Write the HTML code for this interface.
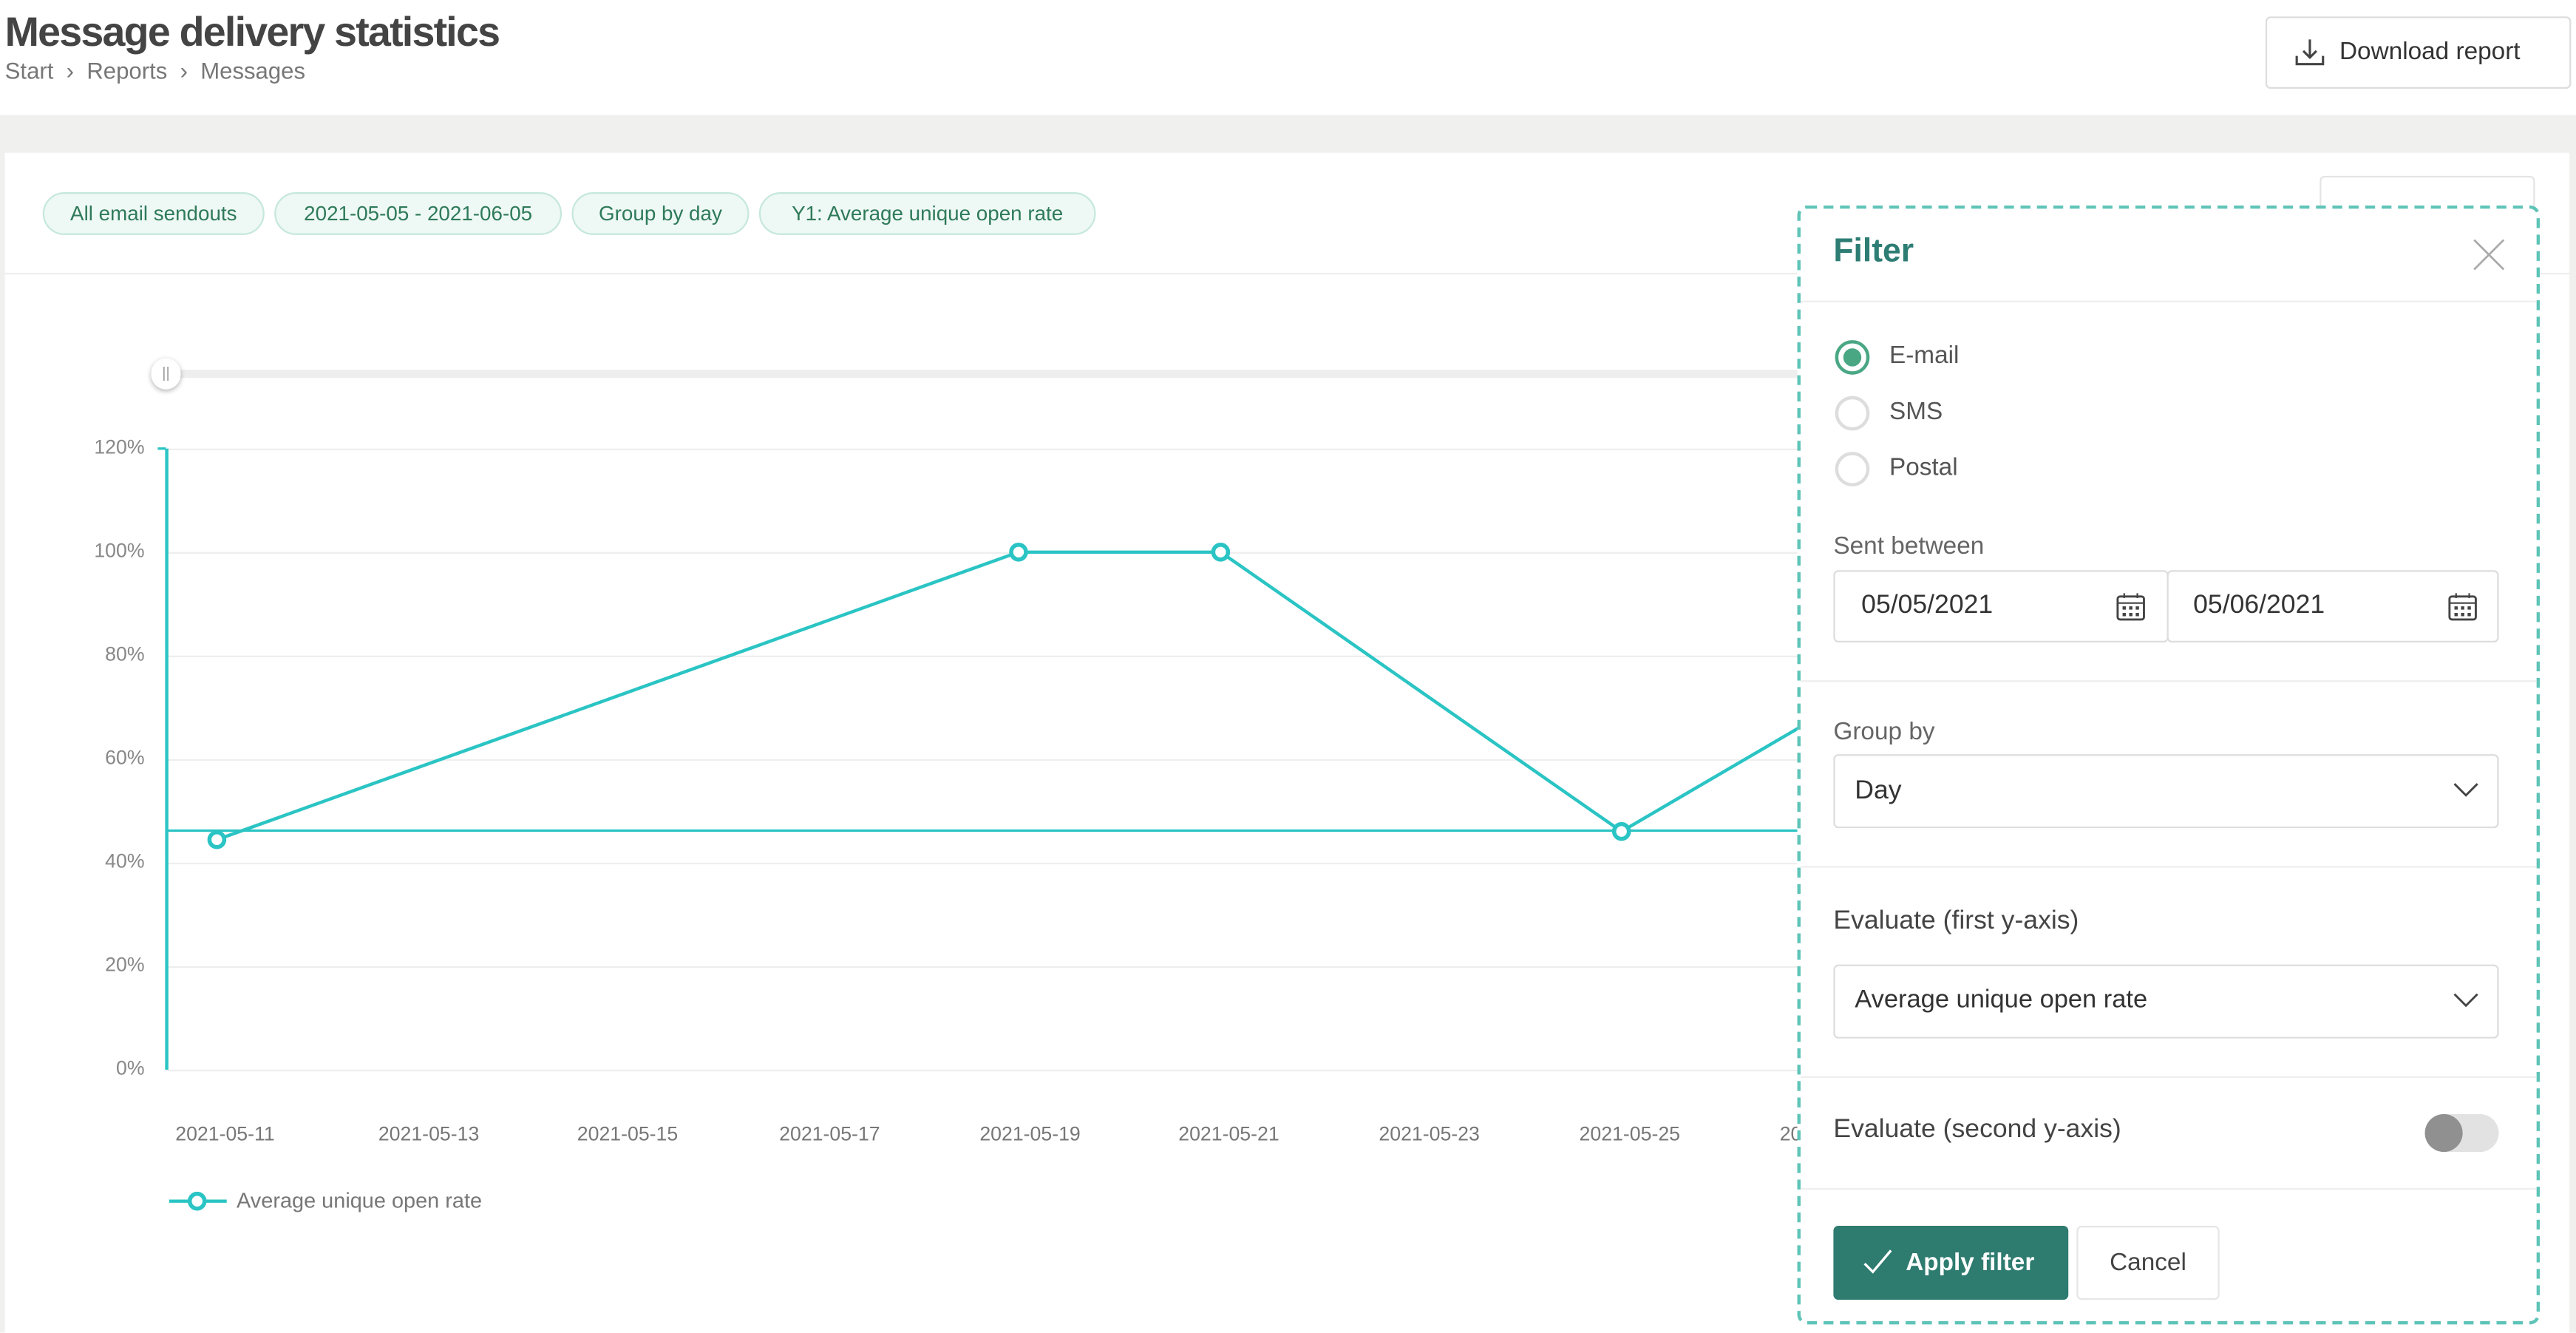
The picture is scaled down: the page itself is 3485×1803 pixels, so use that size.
<!DOCTYPE html>
<html><head><meta charset="utf-8"><style>
*{box-sizing:border-box;margin:0;padding:0}
html,body{width:3485px;height:1802px;overflow:hidden;background:#fff}
#s{position:absolute;left:0;top:0;width:1568px;height:811px;transform:scale(2.22258);transform-origin:0 0;font-family:"Liberation Sans",sans-serif;background:#fff}
.a{position:absolute}
.chip{position:absolute;top:117px;height:26px;border:1px solid #c6e8dc;background:#eef8f4;border-radius:13px;color:#2e7a5a;font-size:12.5px;line-height:24px;text-align:center}
.ylab{position:absolute;right:1480px;font-size:12px;color:#888;text-align:right}
.xlab{position:absolute;top:683px;font-size:12px;color:#777;width:80px;margin-left:-40px;text-align:center}
.lbl{position:absolute;left:1116px;font-size:15px;color:#666}
.inp{position:absolute;border:1px solid #ddd;border-radius:3px;background:#fff;font-size:16px;color:#333}
.div{position:absolute;left:1096px;width:448px;height:1px;background:#eee}
.radio{position:absolute;left:1117px;width:21px;height:21px;border-radius:50%;border:2px solid #ddd}
</style></head><body><div id="s">
<div class="a" style="left:3px;top:6px;font-size:25px;font-weight:bold;color:#444;letter-spacing:-0.8px">Message delivery statistics</div>
<div class="a" style="left:3px;top:35px;font-size:14px;color:#777">Start &nbsp;›&nbsp; Reports &nbsp;›&nbsp; Messages</div>
<div class="a" style="left:1379px;top:10px;width:186px;height:44px;border:1px solid #ddd;border-radius:3px;font-size:15px;color:#333;line-height:42px;padding-left:44px">Download report</div>
<svg class="a" style="left:1396px;top:22px" width="20" height="20" viewBox="0 0 20 20"><path d="M10 2v11M6 9l4 4 4-4M2 12v5h16v-5" fill="none" stroke="#444" stroke-width="1.4"/></svg>
<div class="a" style="left:0;top:70px;width:1568px;height:741px;background:#f0f0ee"></div>
<div class="a" style="left:3px;top:93px;width:1561px;height:718px;background:#fff"></div>
<div class="chip" style="left:26px;width:135px">All email sendouts</div>
<div class="chip" style="left:167px;width:175px">2021-05-05 - 2021-06-05</div>
<div class="chip" style="left:348px;width:108px">Group by day</div>
<div class="chip" style="left:462px;width:205px">Y1: Average unique open rate</div>
<div class="a" style="left:1412px;top:107px;width:131px;height:40px;border:1px solid #e4e4e4;border-radius:3px"></div>
<div class="a" style="left:3px;top:166px;width:1561px;height:1px;background:#eee"></div>
<div class="a" style="left:100px;top:225px;width:1000px;height:5px;background:#eee;border-radius:2px"></div>
<div class="a" style="left:92px;top:218px;width:18px;height:19px;border-radius:9px;background:#fff;box-shadow:0 1px 3px rgba(0,0,0,.3);font-size:9px;color:#999;text-align:center;line-height:18px">||</div>
<div class="ylab" style="top:265px;left:40px;width:48px">120%</div>
<div class="ylab" style="top:328px;left:40px;width:48px">100%</div>
<div class="ylab" style="top:391px;left:40px;width:48px">80%</div>
<div class="ylab" style="top:454px;left:40px;width:48px">60%</div>
<div class="ylab" style="top:517px;left:40px;width:48px">40%</div>
<div class="ylab" style="top:580px;left:40px;width:48px">20%</div>
<div class="ylab" style="top:643px;left:40px;width:48px">0%</div>
<svg class="a" style="left:0;top:0" width="1568" height="811">
<g stroke="#eee" stroke-width="1"><line x1="101" y1="273.5" x2="1100" y2="273.5"/><line x1="101" y1="336.5" x2="1100" y2="336.5"/><line x1="101" y1="399.5" x2="1100" y2="399.5"/><line x1="101" y1="462.5" x2="1100" y2="462.5"/><line x1="101" y1="525.5" x2="1100" y2="525.5"/><line x1="101" y1="588.5" x2="1100" y2="588.5"/><line x1="101" y1="651.5" x2="1100" y2="651.5"/></g>
<line x1="101.5" y1="273" x2="101.5" y2="651" stroke="#2bc4c4" stroke-width="2"/>
<line x1="96" y1="273" x2="101" y2="273" stroke="#2bc4c4" stroke-width="1.5"/>
<line x1="101" y1="505.5" x2="1100" y2="505.5" stroke="#2bc4c4" stroke-width="1.5"/>
<polyline points="132,511 620,336 743,336 987,506 1100,440" fill="none" stroke="#2bc4c4" stroke-width="2"/>
<g fill="#fff" stroke="#2bc4c4" stroke-width="2.5"><circle cx="132" cy="511" r="4.5"/><circle cx="620" cy="336" r="4.5"/><circle cx="743" cy="336" r="4.5"/><circle cx="987" cy="506" r="4.5"/></g>
<line x1="103" y1="731" x2="138" y2="731" stroke="#2bc4c4" stroke-width="2"/>
<circle cx="120" cy="731" r="4.5" fill="#fff" stroke="#2bc4c4" stroke-width="2.5"/>
</svg>
<div class="xlab" style="left:137px">2021-05-11</div>
<div class="xlab" style="left:261px">2021-05-13</div>
<div class="xlab" style="left:382px">2021-05-15</div>
<div class="xlab" style="left:505px">2021-05-17</div>
<div class="xlab" style="left:627px">2021-05-19</div>
<div class="xlab" style="left:748px">2021-05-21</div>
<div class="xlab" style="left:870px">2021-05-23</div>
<div class="xlab" style="left:992px">2021-05-25</div>
<div class="xlab" style="left:1114px">2021-05-27</div>
<div class="a" style="left:144px;top:723px;font-size:13px;color:#777">Average unique open rate</div>
<!-- filter panel -->
<div class="a" style="left:1094px;top:125px;width:452px;height:681px;background:#fff;border:2px dashed #5fc4b8;border-radius:6px"></div>
<div class="a" style="left:1116px;top:142px;font-size:20px;font-weight:bold;color:#2d7d74">Filter</div>
<svg class="a" style="left:1505px;top:145px" width="20" height="20"><path d="M1 1L19 19M19 1L1 19" stroke="#aaa" stroke-width="1.2"/></svg>
<div class="div" style="top:183px"></div>
<div class="radio" style="top:207px;border-color:#4aa784;border-width:2px"></div>
<div class="a" style="left:1122px;top:212px;width:11px;height:11px;border-radius:50%;background:#4aa784"></div>
<div class="radio" style="top:241px"></div>
<div class="radio" style="top:275px"></div>
<div class="a" style="left:1150px;top:208px;font-size:15px;color:#555">E-mail</div>
<div class="a" style="left:1150px;top:242px;font-size:15px;color:#555">SMS</div>
<div class="a" style="left:1150px;top:276px;font-size:15px;color:#555">Postal</div>
<div class="lbl" style="top:324px">Sent between</div>
<div class="inp" style="left:1116px;top:347px;width:204px;height:44px;padding:12px 0 0 16px">05/05/2021</div>
<div class="inp" style="left:1319px;top:347px;width:202px;height:44px;padding:12px 0 0 15px">05/06/2021</div>
<svg class="a" style="left:1288px;top:360px" width="18" height="18"><rect x="1" y="3" width="16" height="14" rx="1.5" fill="none" stroke="#444" stroke-width="1.3"/><line x1="1" y1="7" x2="17" y2="7" stroke="#444"/><line x1="5" y1="1" x2="5" y2="4" stroke="#444"/><line x1="13" y1="1" x2="13" y2="4" stroke="#444"/><g fill="#444"><rect x="4" y="9" width="2" height="2"/><rect x="8" y="9" width="2" height="2"/><rect x="12" y="9" width="2" height="2"/><rect x="4" y="13" width="2" height="2"/><rect x="8" y="13" width="2" height="2"/><rect x="12" y="13" width="2" height="2"/></g></svg>
<svg class="a" style="left:1490px;top:360px" width="18" height="18"><rect x="1" y="3" width="16" height="14" rx="1.5" fill="none" stroke="#444" stroke-width="1.3"/><line x1="1" y1="7" x2="17" y2="7" stroke="#444"/><line x1="5" y1="1" x2="5" y2="4" stroke="#444"/><line x1="13" y1="1" x2="13" y2="4" stroke="#444"/><g fill="#444"><rect x="4" y="9" width="2" height="2"/><rect x="8" y="9" width="2" height="2"/><rect x="12" y="9" width="2" height="2"/><rect x="4" y="13" width="2" height="2"/><rect x="8" y="13" width="2" height="2"/><rect x="12" y="13" width="2" height="2"/></g></svg>
<div class="div" style="top:414px"></div>
<div class="lbl" style="top:437px">Group by</div>
<div class="inp" style="left:1116px;top:459px;width:405px;height:45px;padding:13px 0 0 12px">Day</div>
<svg class="a" style="left:1493px;top:476px" width="16" height="10"><path d="M1 1l7 7 7-7" fill="none" stroke="#444" stroke-width="1.3"/></svg>
<div class="div" style="top:527px"></div>
<div class="a" style="left:1116px;top:552px;font-size:16px;color:#444">Evaluate (first y-axis)</div>
<div class="inp" style="left:1116px;top:587px;width:405px;height:45px;padding:12px 0 0 12px;font-size:15.5px">Average unique open rate</div>
<svg class="a" style="left:1493px;top:604px" width="16" height="10"><path d="M1 1l7 7 7-7" fill="none" stroke="#444" stroke-width="1.3"/></svg>
<div class="div" style="top:655px"></div>
<div class="a" style="left:1116px;top:679px;font-size:16px;color:#444">Evaluate (second y-axis)</div>
<div class="a" style="left:1476px;top:678px;width:45px;height:23px;border-radius:12px;background:#e2e2e2"></div>
<div class="a" style="left:1476px;top:678px;width:23px;height:23px;border-radius:50%;background:#909090"></div>
<div class="div" style="top:723px"></div>
<div class="a" style="left:1116px;top:746px;width:143px;height:45px;background:#2e7b6f;border-radius:3px;color:#fff;font-size:15px;font-weight:bold;line-height:45px;padding-left:44px">Apply filter</div>
<svg class="a" style="left:1134px;top:760px" width="18" height="16"><path d="M1 9l5 5L17 1" fill="none" stroke="#fff" stroke-width="1.5"/></svg>
<div class="a" style="left:1264px;top:746px;width:87px;height:45px;border:1px solid #e6e6e6;border-radius:3px;color:#444;font-size:15px;line-height:43px;text-align:center">Cancel</div>
</div></body></html>
